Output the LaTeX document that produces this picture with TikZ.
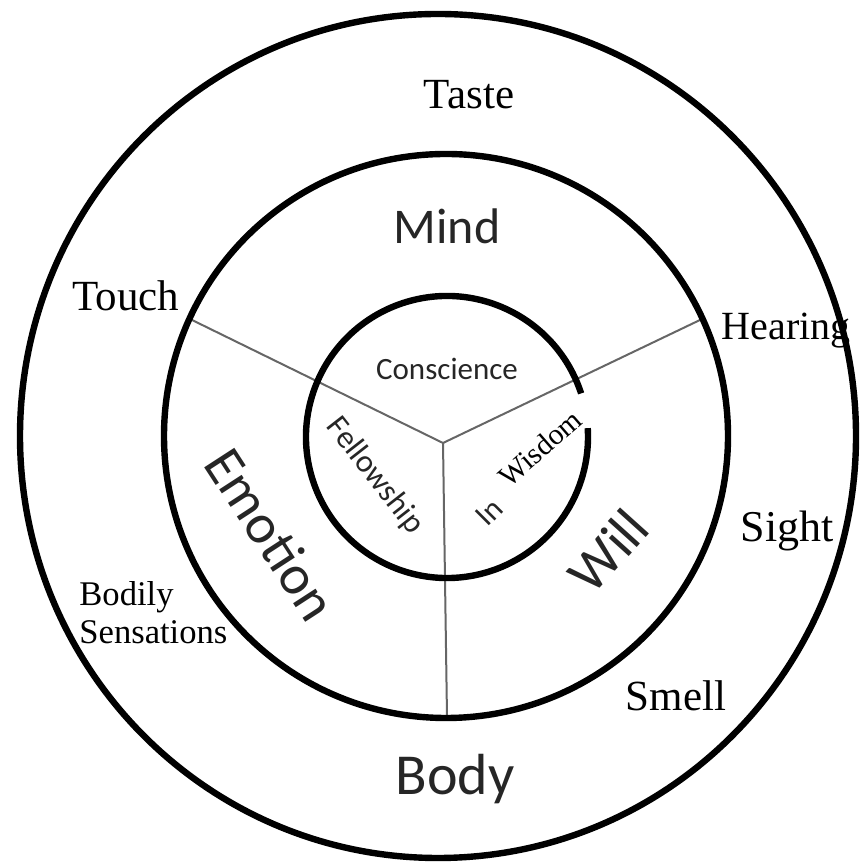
\documentclass[tikz,border=0pt]{standalone}
\usepackage{fontspec}
\setmainfont{Liberation Serif}
\setsansfont{Carlito}
\usepackage{tikz}
\usetikzlibrary{calc}

\tikzset{
  ring/.style={line width=3.2pt},
  spoke/.style={line width=1pt, black!60},
  sense/.style={anchor=base, inner sep=0pt},
  seclabel/.style={font=\sffamily\fontsize{#1}{#1}\selectfont, text=black!85, inner sep=0pt},
}

\begin{document}
\begin{tikzpicture}[x=0.5pt, y=0.5pt]
\useasboundingbox (0,0) rectangle (859,865);

% centres
\coordinate (c) at (446,429);
\coordinate (hub) at (443,422);

% spokes from the hub out to the middle ring
\coordinate (tl) at (192,545);
\coordinate (tr) at (700,545);
\coordinate (bt) at (447,148);
\draw[spoke] (hub) -- (tl);
\draw[spoke] (hub) -- (tr);
\draw[spoke] (hub) -- (bt);

% inner sections
\node[seclabel=15.5, anchor=base] (conscience) at (447,485) {Conscience};
\node[seclabel=16, rotate=-52] (fellowship) at (375,389) {Fellowship};
\node[seclabel=15.5, rotate=45] (in) at (489,353) {In};
\node[font=\fontsize{14.8}{15}\selectfont, rotate=41, fill=white,
      inner xsep=9pt, inner ysep=3pt] (wisdom) at (540,417) {Wisdom};

% inner ring, left open at the upper right
\draw[ring] ($(447,428)+(18:141)$) arc[start angle=18, end angle=363.6, radius=141];

% middle and outer rings
\draw[ring] (c) circle[radius=282];
\draw[ring] (438,429) circle[x radius=418, y radius=422];

% middle sections
\node[seclabel=25, anchor=base] (mind) at (447,621) {Mind};
\node[seclabel=28, rotate=-57] (emotion) at (271,331) {Emotion};
\node[seclabel=28, rotate=48] (will) at (608,314) {Will};
\node[seclabel=29, anchor=base] (body) at (455,70) {Body};

% the senses
\foreach \lbl/\x/\y/\s in {Taste/469/756/21.5, Touch/126/554/21.5,
    Hearing/786/525/20, Sight/787/323/22, Smell/676/154/21.5}
  \node[sense, font=\fontsize{\s}{\s}\selectfont] (\lbl) at (\x,\y) {\lbl};
\node[anchor=north west, inner sep=0pt, align=left,
      font=\fontsize{17.3}{19}\selectfont] (bodily) at (79,284) {Bodily\\Sensations};

\end{tikzpicture}
\end{document}
